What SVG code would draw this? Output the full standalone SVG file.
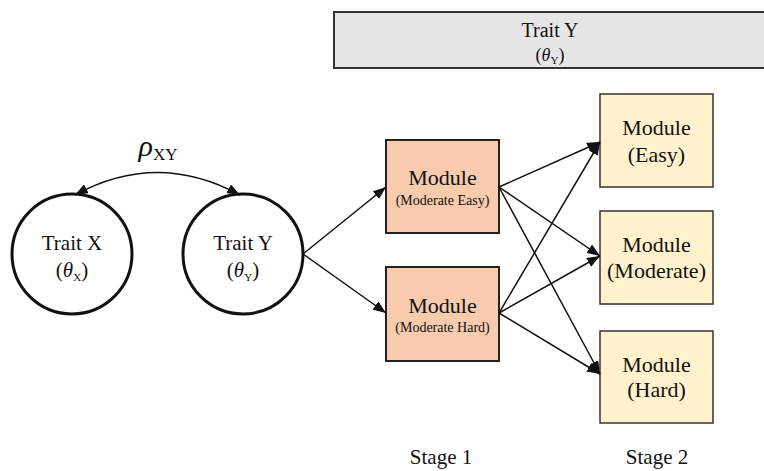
<svg xmlns="http://www.w3.org/2000/svg" width="764" height="471" viewBox="0 0 764 471">
<style>
text{font-family:"Liberation Serif","Times New Roman",serif;fill:#111;text-anchor:middle}
.t21{font-size:21px}
.t22{font-size:22px}
.t14{font-size:14px}
.sub{font-size:11px}
.it{font-style:italic}
.circ{fill:#fff;stroke:#111;stroke-width:3}
.s1{fill:#f8cbad;stroke:#222;stroke-width:2}
.s2{fill:#fff2cc;stroke:#333;stroke-width:1.5}
.conn line,.conn path{stroke:#111;stroke-width:1.5;fill:none}
</style>
<defs>
<marker id="ah" markerUnits="userSpaceOnUse" markerWidth="14" markerHeight="10" refX="13" refY="5" orient="auto">
<path d="M0,0 L13,5 L0,10 Z" fill="#111"/>
</marker>
<marker id="ahs" markerUnits="userSpaceOnUse" markerWidth="14" markerHeight="10" refX="13" refY="5" orient="auto-start-reverse">
<path d="M0,0 L13,5 L0,10 Z" fill="#111"/>
</marker>
</defs>
<rect width="764" height="471" fill="#fff"/>
<g id="traitY-header">
<rect x="334" y="12" width="436" height="56" fill="#e7e6e6" stroke="#333" stroke-width="2"/>
<text x="550" y="37" style="font-size:20px">Trait Y</text>
<text x="550" y="61" style="font-size:18px">(<tspan class="it">θ</tspan><tspan class="sub" dy="3">Y</tspan><tspan dy="-3">)</tspan></text>
</g>
<g id="traitX">
<circle class="circ" cx="72" cy="254" r="60"/>
<text class="t21" x="72" y="250">Trait X</text>
<text x="72" y="277" style="font-size:21px">(<tspan class="it">θ</tspan><tspan class="sub" dy="4">X</tspan><tspan dy="-4">)</tspan></text>
</g>
<g id="traitY">
<circle class="circ" cx="243" cy="254" r="60"/>
<text class="t21" x="243" y="250">Trait Y</text>
<text x="243" y="277" style="font-size:21px">(<tspan class="it">θ</tspan><tspan class="sub" dy="4">Y</tspan><tspan dy="-4">)</tspan></text>
</g>
<g id="rho-label">
<text x="158" y="156" style="font-size:30px"><tspan class="it">ρ</tspan><tspan style="font-size:17px" dy="4">XY</tspan></text>
</g>
<g id="mod-mod-easy">
<rect class="s1" x="386" y="140" width="113" height="93"/>
<text class="t22" x="442.5" y="185">Module</text>
<text class="t14" x="442.5" y="205">(Moderate Easy)</text>
</g>
<g id="mod-mod-hard">
<rect class="s1" x="386" y="267" width="113" height="94"/>
<text class="t22" x="442.5" y="313">Module</text>
<text class="t14" x="442.5" y="332">(Moderate Hard)</text>
</g>
<g id="mod-easy">
<rect class="s2" x="600" y="94" width="113" height="93"/>
<text class="t22" x="656.5" y="135">Module</text>
<text class="t22" x="656.5" y="162">(Easy)</text>
</g>
<g id="mod-moderate">
<rect class="s2" x="600" y="211" width="113" height="93"/>
<text class="t22" x="656.5" y="252">Module</text>
<text class="t22" x="656.5" y="278">(Moderate)</text>
</g>
<g id="mod-hard">
<rect class="s2" x="600" y="331" width="113" height="92"/>
<text class="t22" x="656.5" y="372">Module</text>
<text class="t22" x="656.5" y="397">(Hard)</text>
</g>
<g id="stage-labels">
<text class="t21" x="441" y="464">Stage 1</text>
<text class="t21" x="657" y="464">Stage 2</text>
</g>
<g class="conn" id="connectors">
<path d="M75,195 Q157,150 240,195" marker-start="url(#ahs)" marker-end="url(#ah)"/>
<line x1="303" y1="254" x2="386" y2="187" marker-end="url(#ah)"/>
<line x1="303" y1="254" x2="386" y2="313" marker-end="url(#ah)"/>
<line x1="499" y1="187" x2="600" y2="142" marker-end="url(#ah)"/>
<line x1="499" y1="187" x2="600" y2="256" marker-end="url(#ah)"/>
<line x1="499" y1="187" x2="600" y2="374" marker-end="url(#ah)"/>
<line x1="499" y1="313" x2="600" y2="142" marker-end="url(#ah)"/>
<line x1="499" y1="313" x2="600" y2="256" marker-end="url(#ah)"/>
<line x1="499" y1="313" x2="600" y2="374" marker-end="url(#ah)"/>
</g>
</svg>
